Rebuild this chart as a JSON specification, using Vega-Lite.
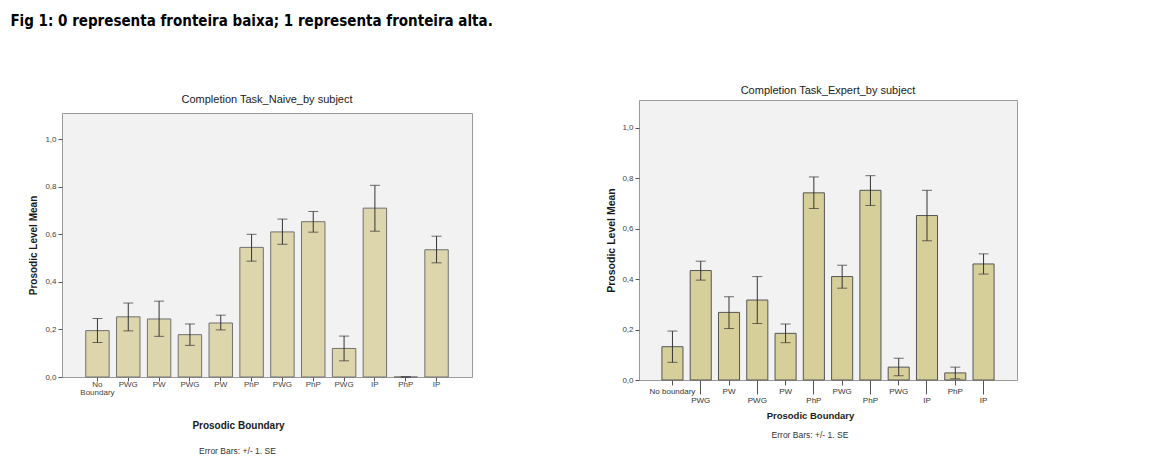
{
  "$schema": "https://vega.github.io/schema/vega-lite/v6.json",
  "background": "white",
  "padding": {"left": 10, "top": 13, "right": 5, "bottom": 5},
  "title": {
    "text": "Fig 1: 0 representa fronteira baixa; 1 representa fronteira alta.",
    "anchor": "start",
    "frame": "bounds",
    "font": "DejaVu Sans Condensed",
    "fontSize": 15,
    "fontWeight": "bold",
    "color": "#000000",
    "dx": -18,
    "offset": 56
  },
  "config": {
    "font": "Liberation Sans",
    "view": {"fill": "#f2f2f2", "stroke": "#9a9a9a", "strokeWidth": 1},
    "axis": {"grid": false, "domain": false, "labelFont": "Liberation Sans", "titleFont": "Liberation Sans"},
    "title": {"font": "Liberation Sans"}
  },
  "datasets": {
    "naive": [
      {"k": "01", "mean": 0.195, "lo": 0.145, "hi": 0.246},
      {"k": "02", "mean": 0.253, "lo": 0.194, "hi": 0.311},
      {"k": "03", "mean": 0.244, "lo": 0.171, "hi": 0.319},
      {"k": "04", "mean": 0.178, "lo": 0.133, "hi": 0.223},
      {"k": "05", "mean": 0.227, "lo": 0.198, "hi": 0.26},
      {"k": "06", "mean": 0.545, "lo": 0.487, "hi": 0.6},
      {"k": "07", "mean": 0.61, "lo": 0.558, "hi": 0.664},
      {"k": "08", "mean": 0.653, "lo": 0.609, "hi": 0.696},
      {"k": "09", "mean": 0.12, "lo": 0.068, "hi": 0.172},
      {"k": "10", "mean": 0.71, "lo": 0.613, "hi": 0.806},
      {"k": "11", "mean": 0.0, "lo": 0.0, "hi": 0.0},
      {"k": "12", "mean": 0.535, "lo": 0.48, "hi": 0.592}
    ],
    "expert": [
      {"k": "01", "mean": 0.132, "lo": 0.07, "hi": 0.194},
      {"k": "02", "mean": 0.434, "lo": 0.396, "hi": 0.471},
      {"k": "03", "mean": 0.268, "lo": 0.204, "hi": 0.33},
      {"k": "04", "mean": 0.317, "lo": 0.224, "hi": 0.41},
      {"k": "05", "mean": 0.185, "lo": 0.148, "hi": 0.222},
      {"k": "06", "mean": 0.742, "lo": 0.68, "hi": 0.805},
      {"k": "07", "mean": 0.41, "lo": 0.364, "hi": 0.455},
      {"k": "08", "mean": 0.752, "lo": 0.692, "hi": 0.81},
      {"k": "09", "mean": 0.051, "lo": 0.017, "hi": 0.086},
      {"k": "10", "mean": 0.652, "lo": 0.552, "hi": 0.752},
      {"k": "11", "mean": 0.028, "lo": 0.005, "hi": 0.051},
      {"k": "12", "mean": 0.46, "lo": 0.42, "hi": 0.5}
    ]
  },
  "spacing": 133,
  "hconcat": [
    {
      "title": {"text": "Error Bars: +/- 1. SE", "orient": "bottom", "anchor": "middle", "frame": "bounds", "fontSize": 8.5, "fontWeight": "normal", "color": "#333333", "offset": 16, "dx": -13},
      "spacing": -11,
      "vconcat": [
        {
          "width": 410,
          "height": 1,
          "view": {"stroke": null, "fill": null},
          "data": {"values": [{"a": 1}]},
          "mark": {"type": "point", "opacity": 0},
          "encoding": {}
        },
        {
          "width": 410,
          "height": 264,
          "title": {"text": "Completion Task_Naive_by subject", "fontSize": 11, "fontWeight": "normal", "color": "#1a1a1a", "offset": 8, "anchor": "middle"},
          "data": {"name": "naive"},
          "encoding": {
            "x": {
              "field": "k", "type": "nominal",
              "scale": {"paddingInner": 0.24, "paddingOuter": 0.77},
              "axis": {
                "labelAngle": 0, "tickSize": 4, "tickColor": "#555555", "labelFontSize": 8, "labelColor": "#444444", "labelPadding": -1, "labelLineHeight": 8,
                "labelExpr": "datum.value == '01' ? ['No', 'Boundary'] : ['', 'PWG', 'PW', 'PWG', 'PW', 'PhP', 'PWG', 'PhP', 'PWG', 'IP', 'PhP', 'IP'][toNumber(datum.value) - 1]",
                "title": "Prosodic Boundary", "titleFontSize": 10, "titleFontWeight": "bold", "titleColor": "#1a1a1a", "titlePadding": 24, "titleX": 176
              }
            }
          },
          "layer": [
            {
              "mark": {"type": "bar", "fill": "#ddd5ab", "stroke": "#707070", "strokeWidth": 1},
              "encoding": {
                "y": {
                  "field": "mean", "type": "quantitative",
                  "scale": {"domain": [0, 1.11], "nice": false},
                  "axis": {
                    "values": [0, 0.2, 0.4, 0.6, 0.8, 1.0],
                    "labelExpr": "replace(format(datum.value, '.1f'), '.', ',')",
                    "tickSize": 4, "tickColor": "#555555", "labelFontSize": 8, "labelColor": "#444444", "labelPadding": 2,
                    "title": "Prosodic Level Mean", "titleFontSize": 10, "titleFontWeight": "bold", "titleColor": "#1a1a1a", "titlePadding": 6
                  }
                }
              }
            },
            {
              "mark": {"type": "rule", "color": "#333333", "strokeWidth": 1},
              "encoding": {"y": {"field": "lo", "type": "quantitative"}, "y2": {"field": "hi"}}
            },
            {
              "mark": {"type": "tick", "color": "#333333", "size": 10, "thickness": 1},
              "encoding": {"y": {"field": "lo", "type": "quantitative"}}
            },
            {
              "mark": {"type": "tick", "color": "#333333", "size": 10, "thickness": 1},
              "encoding": {"y": {"field": "hi", "type": "quantitative"}}
            }
          ]
        }
      ]
    },
    {
      "title": {"text": "Error Bars: +/- 1. SE", "orient": "bottom", "anchor": "middle", "frame": "bounds", "fontSize": 8.5, "fontWeight": "normal", "color": "#333333", "offset": 11, "dx": -2},
      "vconcat": [
        {
          "width": 378,
          "height": 280,
          "title": {"text": "Completion Task_Expert_by subject", "fontSize": 11, "fontWeight": "normal", "color": "#1a1a1a", "offset": 4, "anchor": "middle"},
          "data": {"name": "expert"},
          "encoding": {
            "x": {
              "field": "k", "type": "nominal",
              "scale": {"paddingInner": 0.255, "paddingOuter": 0.81},
              "axis": {
                "labelAngle": 0,
                "tickSize": {"condition": {"test": "toNumber(datum.value) % 2 == 0", "value": 14}, "value": 5},
                "labelPadding": 2,
                "tickColor": "#555555", "labelFontSize": 8, "labelColor": "#333333",
                "labelExpr": "['No boundary', 'PWG', 'PW', 'PWG', 'PW', 'PhP', 'PWG', 'PhP', 'PWG', 'IP', 'PhP', 'IP'][toNumber(datum.value) - 1]",
                "title": "Prosodic Boundary", "titleFontSize": 9.5, "titleFontWeight": "bold", "titleColor": "#1a1a1a", "titlePadding": 6, "titleX": 171
              }
            }
          },
          "layer": [
            {
              "mark": {"type": "bar", "fill": "#d6cf9a", "stroke": "#555555", "strokeWidth": 1},
              "encoding": {
                "y": {
                  "field": "mean", "type": "quantitative",
                  "scale": {"domain": [0, 1.11], "nice": false},
                  "axis": {
                    "values": [0, 0.2, 0.4, 0.6, 0.8, 1.0],
                    "labelExpr": "replace(format(datum.value, '.1f'), '.', ',')",
                    "tickSize": 4, "tickColor": "#555555", "labelFontSize": 8, "labelColor": "#444444", "labelPadding": 2,
                    "title": "Prosodic Level Mean", "titleFontSize": 10.5, "titleFontWeight": "bold", "titleColor": "#1a1a1a", "titlePadding": 5
                  }
                }
              }
            },
            {
              "mark": {"type": "rule", "color": "#333333", "strokeWidth": 1},
              "encoding": {"y": {"field": "lo", "type": "quantitative"}, "y2": {"field": "hi"}}
            },
            {
              "mark": {"type": "tick", "color": "#333333", "size": 10, "thickness": 1},
              "encoding": {"y": {"field": "lo", "type": "quantitative"}}
            },
            {
              "mark": {"type": "tick", "color": "#333333", "size": 10, "thickness": 1},
              "encoding": {"y": {"field": "hi", "type": "quantitative"}}
            }
          ]
        }
      ]
    }
  ]
}
